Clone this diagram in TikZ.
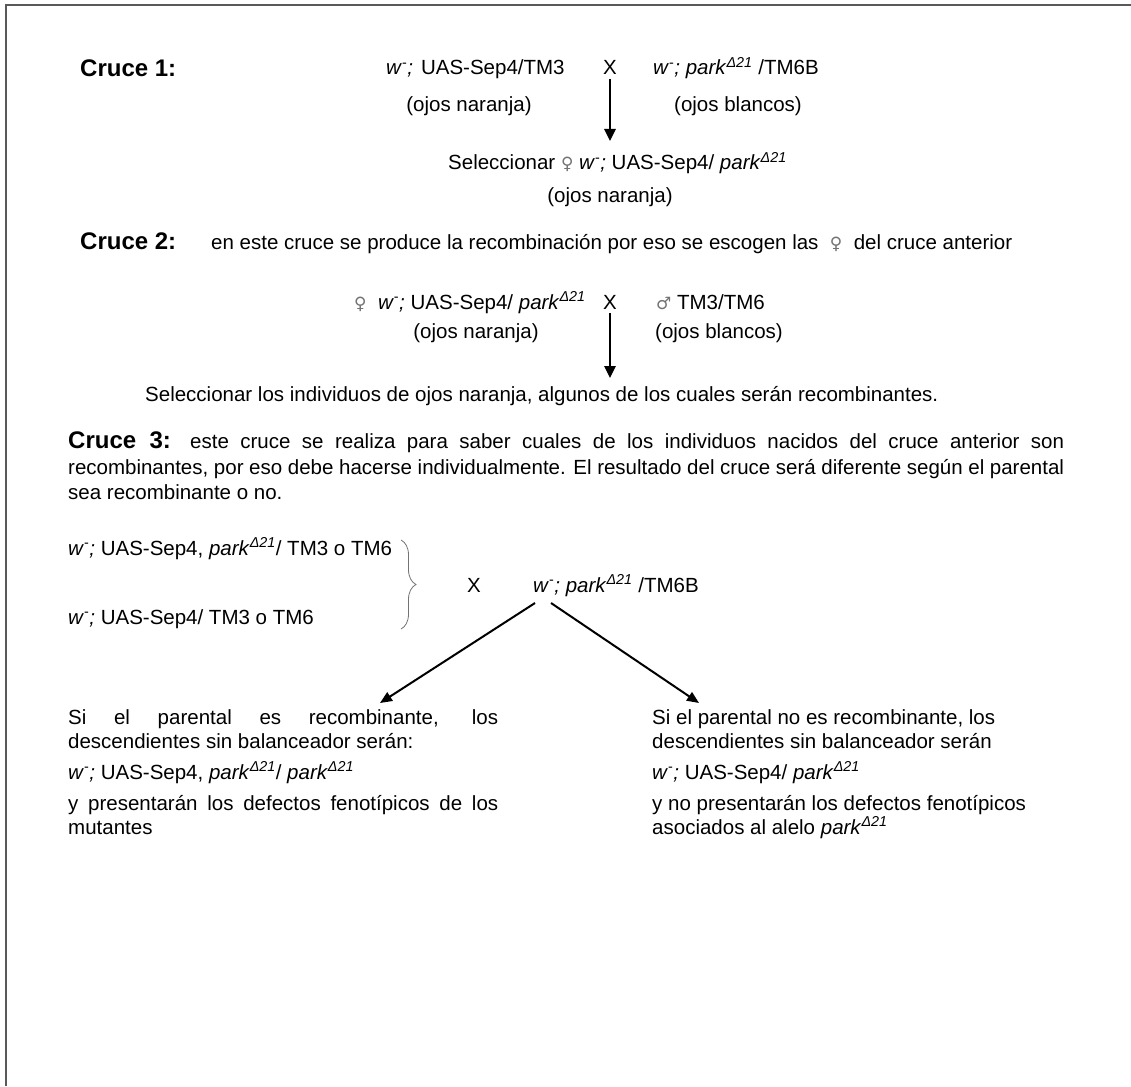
\documentclass[tikz,border=0pt]{standalone}
\usepackage{fontspec}
\setmainfont{Liberation Sans}
\newfontfamily\symfont{DejaVu Sans}
\usetikzlibrary{arrows.meta,decorations.pathreplacing}

% genotype shorthands
\newcommand{\wmin}{\textit{w}\textsuperscript{-}\textit{;}}
\newcommand{\parkD}{\textit{park}\textsuperscript{\textit{Δ21}}}
\newcommand{\fem}{{\color{black!55}\symfont\fontsize{17}{17}\selectfont ♀}}
\newcommand{\mal}{{\color{black!55}\symfont\fontsize{17}{17}\selectfont ♂}}

\tikzset{
  txt/.style={inner sep=0pt, anchor=base west, font=\fontsize{20.5}{25}\selectfont},
  ctxt/.style={txt, anchor=base},
  ttl/.style={inner sep=0pt, anchor=base west, font=\fontsize{24}{28}\selectfont\bfseries},
  varrow/.style={line width=2.6pt, -{Triangle[length=12pt,width=11pt]}},
  darrow/.style={line width=2pt, -{Triangle[length=12pt,width=10pt]}},
  frame/.style={draw=black!65, line width=2pt},
  bracket/.style={draw=black!55, line width=0.8pt, decorate, decoration={brace, amplitude=15pt}}
}

\begin{document}
\begin{tikzpicture}[x=1pt, y=-1pt]
\useasboundingbox (0,0) rectangle (1131,1086);

% page frame (top and left edges)
\draw[frame] (6,1086) -- (6,5) -- (1131,5);

% ---- Cruce 1
\node[ttl] (t1) at (80,77) {Cruce 1:};
\node[txt] (p1a) at (386,75) {\wmin\hspace{8pt}UAS-Sep4/TM3};
\node[ctxt] (x1) at (610,75) {X};
\node[txt] (p1b) at (653,75) {\wmin\ \parkD\ /TM6B};
\node[ctxt] (o1a) at (469,112) {(ojos naranja)};
\node[ctxt] (o1b) at (738,112) {(ojos blancos)};
\coordinate (a1e) at (610,141);
\draw[varrow] (x1.south) ++(0,4) -- (a1e);
\node[txt] (sel1) at (448,170) {Seleccionar \fem\ \wmin\ UAS-Sep4/ \parkD};
\node[ctxt] (o1c) at (610,202) {(ojos naranja)};

% ---- Cruce 2
\node[ttl] (t2) at (80,249) {Cruce 2:};
\node[txt] (s2) at (211,249) {en este cruce se produce la recombinación por eso se escogen las \ \fem\ \ del cruce anterior};
\node[txt] (p2a) at (354,309) {\fem\ \ \wmin\ UAS-Sep4/ \parkD};
\node[ctxt] (x2) at (610,309) {X};
\node[txt] (p2b) at (656,309) {\mal\ TM3/TM6};
\node[ctxt] (o2a) at (476,338) {(ojos naranja)};
\node[ctxt] (o2b) at (719,338) {(ojos blancos)};
\coordinate (a2e) at (610,378);
\draw[varrow] (x2.south) ++(0,4) -- (a2e);
\node[txt] (sel2) at (145,401) {Seleccionar los individuos de ojos naranja, algunos de los cuales serán recombinantes.};

% ---- Cruce 3
\node[txt] (c3a) at (68,448) {\makebox[996pt][s]{{\fontsize{24}{28}\selectfont\bfseries Cruce 3:} este cruce se realiza para saber cuales de los individuos nacidos del cruce anterior son}};
\node[txt] (c3b) at (68,474) {\makebox[996pt][s]{recombinantes, por eso debe hacerse individualmente. El resultado del cruce será diferente según el parental}};
\node[txt] (c3c) at (68,499) {sea recombinante o no.};

\node[txt] (g1) at (68,555) {\wmin\ UAS-Sep4, \parkD/ TM3 o TM6};
\node[txt] (g2) at (68,624) {\wmin\ UAS-Sep4/ TM3 o TM6};
\coordinate (bt) at (401,540);
\coordinate (bb) at (401,629);
\draw[bracket] (bt) -- (bb);
\node[ctxt] (x3) at (474,592) {X};
\node[txt] (w3) at (533,592) {\wmin\ \parkD\ /TM6B};

\coordinate (dlS) at (535,603);
\coordinate (dlE) at (380,703);
\coordinate (drS) at (551,603);
\coordinate (drE) at (699,703);
\draw[darrow] (dlS) -- (dlE);
\draw[darrow] (drS) -- (drE);

% ---- outcomes
\node[txt] (l1) at (68,724) {\makebox[430pt][s]{Si el parental es recombinante, los}};
\node[txt] (l2) at (68,748) {descendientes sin balanceador serán:};
\node[txt] (l3) at (68,779) {\wmin\ UAS-Sep4, \parkD/ \parkD};
\node[txt] (l4) at (68,810) {\makebox[430pt][s]{y presentarán los defectos fenotípicos de los}};
\node[txt] (l5) at (68,834) {mutantes};

\node[txt] (r1) at (652,724) {Si el parental no es recombinante, los};
\node[txt] (r2) at (652,748) {descendientes sin balanceador serán};
\node[txt] (r3) at (652,779) {\wmin\ UAS-Sep4/ \parkD};
\node[txt] (r4) at (652,810) {y no presentarán los defectos fenotípicos};
\node[txt] (r5) at (652,834) {asociados al alelo \parkD};
\end{tikzpicture}
\end{document}
